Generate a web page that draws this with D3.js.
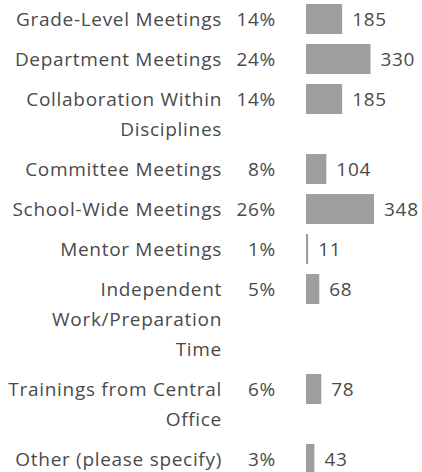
<!DOCTYPE html>
<html>
<head>
<meta charset="utf-8">
<script src="https://cdn.jsdelivr.net/npm/d3@7"></script>
<style>
    body { margin: 0; background: #ffffff; }
    .font { font-family: "Open Sans", sans-serif; font-size: 19px; letter-spacing: 0.7px; fill: #4a4a4a; }
    .bar { fill: #9e9e9e; }
</style>
</head>
<body>
<svg id="chart" width="422" height="472"></svg>
<script>
const SVG_WIDTH = 422;
const SVG_HEIGHT = 472;
const TOP_MARGIN = 4;
const ROW_PITCH = 40;
const LINE_HEIGHT = 30;
const BAR_HEIGHT = 30;
const LABEL_RIGHT_X = 221;
const PERCENT_RIGHT_X = 275;
const BAR_LEFT_X = 306;
const VALUE_GAP = 10;

// labels with their line breaks as shown in the chart
var categories = [
    ["Grade-Level Meetings"],
    ["Department Meetings"],
    ["Collaboration Within", "Disciplines"],
    ["Committee Meetings"],
    ["School-Wide Meetings"],
    ["Mentor Meetings"],
    ["Independent", "Work/Preparation", "Time"],
    ["Trainings from Central", "Office"],
    ["Other (please specify)"]
];
var counts = [185, 330, 185, 104, 348, 11, 68, 78, 43];
var percents = ["14%", "24%", "14%", "8%", "26%", "1%", "5%", "6%", "3%"];

var dataset = [];
var rowTop = TOP_MARGIN;
for (var i = 0; i < categories.length; i++) {
    dataset.push({
        lines: categories[i],
        value: counts[i],
        percent: percents[i],
        top: rowTop
    });
    rowTop += ROW_PITCH + LINE_HEIGHT * (categories[i].length - 1);
}

var svg = d3.select("#chart");

var xScale = d3.scaleLinear()
    .domain([0, d3.max(counts)])
    .range([0, 68]);

var rows = svg.selectAll("g.row")
    .data(dataset)
    .enter()
    .append("g")
    .classed("row", true)
    .attr("transform", function(d) {
        return "translate(0, " + d.top + ")";
    });

// text-anchor end keeps the trailing letter-spacing, so shift by it
var label = rows.append("text")
    .classed("font", true)
    .attr("text-anchor", "end")
    .attr("dominant-baseline", "central")
    .attr("y", BAR_HEIGHT / 2);
label.selectAll("tspan")
    .data(function(d) {
        return d.lines;
    })
    .enter()
    .append("tspan")
    .attr("x", LABEL_RIGHT_X + 1)
    .attr("y", function(d, j) {
        return BAR_HEIGHT / 2 + j * LINE_HEIGHT;
    })
    .text(function(d) {
        return d;
    });

rows.append("text")
    .classed("font", true)
    .attr("text-anchor", "end")
    .attr("dominant-baseline", "central")
    .attr("x", PERCENT_RIGHT_X + 1)
    .attr("y", BAR_HEIGHT / 2)
    .text(function(d) {
        return d.percent;
    });

rows.append("rect")
    .classed("bar", true)
    .attr("x", BAR_LEFT_X)
    .attr("y", 0)
    .attr("width", function(d) {
        return xScale(d.value);
    })
    .attr("height", BAR_HEIGHT);

rows.append("text")
    .classed("font", true)
    .attr("dominant-baseline", "central")
    .attr("x", function(d) {
        return BAR_LEFT_X + xScale(d.value) + VALUE_GAP;
    })
    .attr("y", BAR_HEIGHT / 2)
    .text(function(d) {
        return d.value;
    });
</script>
</body>
</html>
